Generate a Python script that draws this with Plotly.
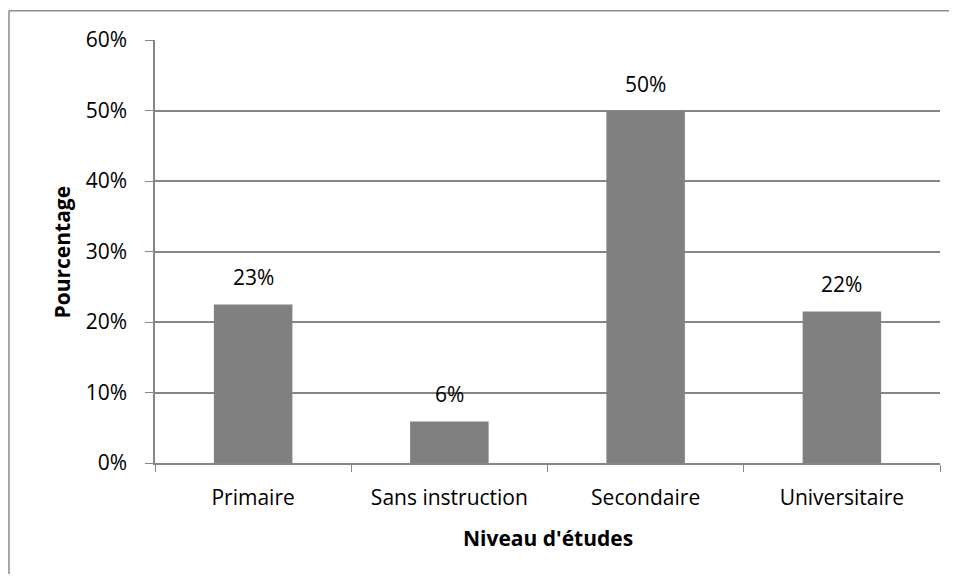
import plotly.graph_objects as go

niveaux = ["Primaire", "Sans instruction", "Secondaire", "Universitaire"]
pourcentages = [22.5, 5.9, 50.0, 21.5]
etiquettes = ["23%", "6%", "50%", "22%"]
y_ticks = [0, 10, 20, 30, 40, 50, 60]
y_tick_labels = ["0%", "10%", "20%", "30%", "40%", "50%", "60%"]

GRIS_BARRE = "#808080"
GRIS_LIGNE = "#868686"
FONT = "Open Sans"

fig = go.Figure()

fig.add_trace(go.Bar(
    x=niveaux,
    y=pourcentages,
    marker=dict(color=GRIS_BARRE, line=dict(width=0)),
    hoverinfo="skip",
    showlegend=False,
))

# data labels, lifted a bit above the bars like the original
for niv, val, lab in zip(niveaux, pourcentages, etiquettes):
    fig.add_annotation(
        x=niv, y=val, text=lab, showarrow=False,
        yanchor="bottom", yshift=11,
        font=dict(family=FONT, size=21, color="black"),
    )

# axis titles
fig.add_annotation(
    xref="paper", yref="paper", x=0.5, y=-0.177, yanchor="middle",
    text="<b>Niveau d'études</b>", showarrow=False,
    font=dict(family=FONT, size=21, color="black"),
)
fig.add_annotation(
    xref="paper", yref="paper", x=-0.1185, y=0.5, xanchor="center",
    text="<b>Pourcentage</b>", textangle=-90, showarrow=False,
    font=dict(family=FONT, size=21, color="black"),
)

# chart frame: only the top and left edges are visible in the crop
frame = dict(color="#8c8c8c", width=1.5)
fig.add_shape(type="line", xref="paper", yref="paper",
              x0=-0.186, x1=1.1, y0=1.069, y1=1.069, line=frame)
fig.add_shape(type="line", xref="paper", yref="paper",
              x0=-0.186, x1=-0.186, y0=-0.4, y1=1.069, line=frame)

fig.update_xaxes(
    type="category",
    tickson="boundaries",
    ticks="outside", ticklen=7, tickcolor=GRIS_LIGNE,
    showline=True, linecolor=GRIS_LIGNE, linewidth=1.5,
    showgrid=False,
    tickfont=dict(family=FONT, size=21, color="black"),
    ticklabelstandoff=15,
)
fig.update_yaxes(
    range=[0, 60],
    tickvals=y_ticks, ticktext=y_tick_labels,
    ticks="outside", ticklen=8, tickcolor=GRIS_LIGNE,
    showline=True, linecolor=GRIS_LIGNE, linewidth=1.5,
    showgrid=True, gridcolor=GRIS_LIGNE, gridwidth=1.5,
    zeroline=False,
    tickfont=dict(family=FONT, size=21, color="black"),
    ticklabelstandoff=14,
)

# page body adds 8px margin, so the figure is 16px smaller than the window
fig.update_layout(
    width=941, height=566,
    margin=dict(l=147, r=9, t=32, b=111),
    paper_bgcolor="white", plot_bgcolor="white",
    bargap=0.6,
    font=dict(family=FONT),
)

fig.write_html("out.html")
